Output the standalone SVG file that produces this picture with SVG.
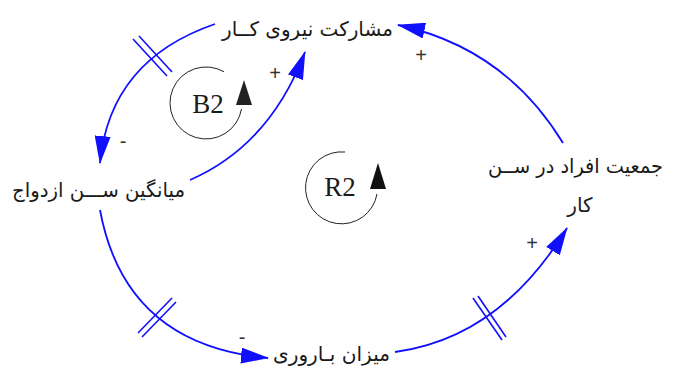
<svg xmlns="http://www.w3.org/2000/svg" width="675" height="369" viewBox="0 0 675 369">
<style>
.fa{font-family:"DejaVu Sans","Noto Sans",sans-serif;font-size:20px;fill:#1a1a1a;direction:rtl;unicode-bidi:embed}
.lbl{font-family:"Liberation Serif",serif;font-size:27px;fill:#1a1a1a}
.sign{font-family:"Liberation Sans",sans-serif;font-size:20px;fill:#333}
.link{fill:none;stroke:#1010ff;stroke-width:1.8}
.hash{stroke:#1010ff;stroke-width:1.6}
.loop{fill:none;stroke:#222;stroke-width:1}
</style>
<defs>
<marker id="ah" viewBox="0 0 28 16" refX="27" refY="8" markerWidth="28" markerHeight="16" markerUnits="userSpaceOnUse" orient="auto">
<path d="M0,0 L28,8 L0,16 z" fill="#1010ff"/>
</marker>
</defs>
<rect width="675" height="369" fill="#fff"/>
<g id="connectors">
<path class="link" d="M563,143 Q505,48 398,25" marker-end="url(#ah)"/>
<path class="link" d="M215,24 Q110,60 100,163" marker-end="url(#ah)"/>
<path class="link" d="M190,180 Q270,145 305,52" marker-end="url(#ah)"/>
<path class="link" d="M100,210 Q125,345 268,358" marker-end="url(#ah)"/>
<path class="link" d="M395,352 Q500,338 567,228" marker-end="url(#ah)"/>
<line class="hash" x1="133" y1="39" x2="167" y2="76"/>
<line class="hash" x1="139" y1="36" x2="172" y2="72"/>
<line class="hash" x1="138" y1="333" x2="172" y2="298"/>
<line class="hash" x1="142" y1="337" x2="176" y2="302"/>
<line class="hash" x1="473" y1="298" x2="502" y2="340"/>
<line class="hash" x1="478" y1="296" x2="506" y2="337"/>
<text class="sign" x="421" y="62" text-anchor="middle">+</text>
<text class="sign" x="275" y="80" text-anchor="middle">+</text>
<text class="sign" x="532" y="250" text-anchor="middle">+</text>
<text class="sign" x="123" y="148" text-anchor="middle">-</text>
<text class="sign" x="242" y="344" text-anchor="middle">-</text>
</g>
<g id="loop-B2">
<path class="loop" d="M224,71.8 A36,36 0 1 0 241.5,109"/>
<path d="M244,80 L236,105 L252,105 z" fill="#222"/>
<text class="lbl" x="208" y="113" text-anchor="middle">B2</text>
</g>
<g id="loop-R2">
<path class="loop" d="M345,152 A36,36 0 1 0 377,194"/>
<path d="M378,163 L370,189 L386,189 z" fill="#111"/>
<text class="lbl" x="340" y="196" text-anchor="middle">R2</text>
</g>
<g id="node-labor">
<text class="fa" x="307.5" y="36" text-anchor="middle" textLength="171" lengthAdjust="spacingAndGlyphs">مشارکت نیروی کــار</text>
</g>
<g id="node-marriage-age">
<text class="fa" x="98.5" y="197" text-anchor="middle" textLength="173" lengthAdjust="spacingAndGlyphs">میانگین ســـن ازدواج</text>
</g>
<g id="node-working-age">
<text class="fa" x="575.5" y="173" text-anchor="middle" textLength="175" lengthAdjust="spacingAndGlyphs">جمعیت افراد در ســن</text>
<text class="fa" x="580" y="212" text-anchor="middle">کار</text>
</g>
<g id="node-fertility">
<text class="fa" x="331.5" y="361" text-anchor="middle" textLength="117" lengthAdjust="spacingAndGlyphs">میزان بـاروری</text>
</g>
</svg>
